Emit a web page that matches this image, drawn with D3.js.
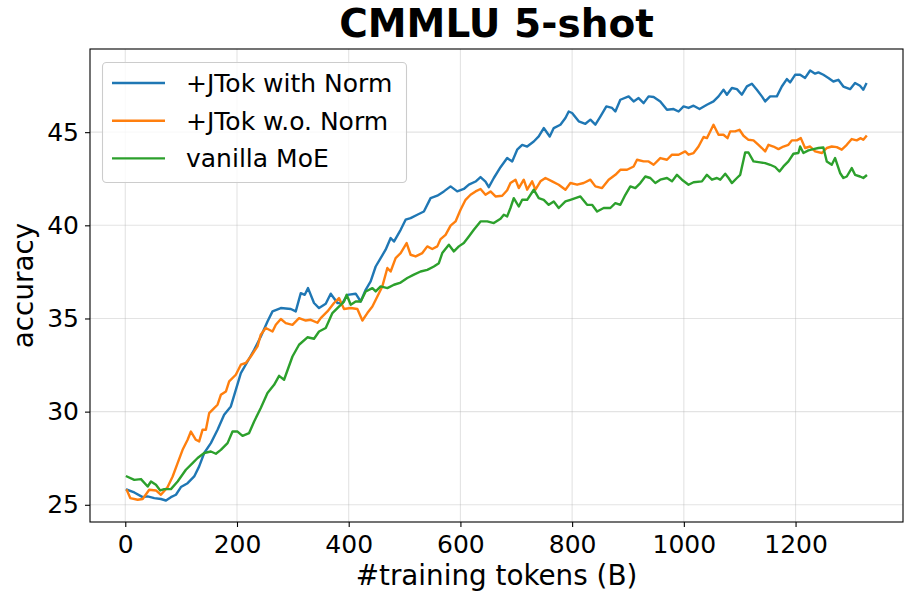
<!DOCTYPE html>
<html><head><meta charset="utf-8">
<script src="https://cdn.jsdelivr.net/npm/d3@7"></script>
<style>
html,body{margin:0;padding:0;background:#fff;}
svg{display:block;font-family:"DejaVu Sans",sans-serif;}
</style></head>
<body>
<svg id="chart" width="913" height="604"></svg>
<script>
const seriesNames = ["+JTok with Norm", "+JTok w.o. Norm", "vanilla MoE"];
const seriesColors = ["#1f77b4", "#ff7f0e", "#2ca02c"];
const xTicks = [0, 200, 400, 600, 800, 1000, 1200];
const yTicks = [25, 30, 35, 40, 45];

const blueTokens = [3.0,16.1,31.1,40.1,51.9,63.8,72.8,81.7,90.7,99.6,111.6,123.4,132.3,141.3,153.2,165.2,177.0,189.0,197.9,206.9,218.9,230.7,242.7,254.6,263.6,278.5,296.4,305.2,314.2,321.3,327.2,337.9,346.9,358.9,367.8,379.8,388.7,397.7,412.5,421.5,430.4,439.3,448.3,457.2,466.1,475.1,481.0,493.0,501.9,510.8,522.8,534.6,546.6,558.6,570.4,582.4,594.3,606.1,615.1,627.1,636.0,644.9,650.8,659.8,671.8,683.7,692.7,701.6,710.6,719.5,731.3,740.2,749.2,759.9,767.1,779.0,788.0,793.9,799.9,811.8,823.7,832.7,841.6,850.5,861.3,871.5,877.4,886.3,901.2,910.1,919.0,928.0,936.9,945.9,957.8,969.8,981.6,990.6,999.5,1008.4,1017.4,1028.1,1041.3,1053.1,1062.1,1071.0,1077.1,1086.0,1095.0,1103.9,1112.9,1121.8,1130.7,1139.7,1145.6,1154.5,1166.5,1175.4,1184.4,1190.3,1199.2,1208.2,1217.1,1226.1,1235.0,1240.9,1249.8,1258.8,1267.7,1276.6,1285.6,1297.6,1306.5,1315.4,1321.3,1326.2];
const blueAcc = [25.81,25.66,25.41,25.45,25.36,25.31,25.23,25.41,25.54,25.95,26.16,26.52,27.06,27.78,28.31,29.03,29.83,30.28,31.17,32.07,32.69,33.32,34.03,34.84,35.38,35.56,35.51,35.38,36.36,36.27,36.63,35.83,35.56,35.79,36.33,35.83,35.83,36.27,36.33,35.91,36.54,36.99,37.79,38.24,38.69,39.32,39.13,39.76,40.30,40.39,40.57,40.74,41.46,41.59,41.82,42.09,41.82,41.95,42.18,42.35,42.59,42.35,42.05,42.54,43.12,43.61,43.43,44.06,44.32,44.23,44.50,44.77,45.22,44.77,45.22,45.40,45.76,46.11,46.03,45.58,45.45,45.67,45.40,45.84,46.38,46.30,46.11,46.74,46.92,46.65,46.83,46.56,46.92,46.89,46.65,46.20,46.24,46.11,46.38,46.30,46.42,46.24,46.47,46.65,46.92,47.28,47.01,47.37,47.31,47.01,47.46,47.60,47.28,46.92,46.65,46.92,46.92,47.45,47.85,47.67,48.08,48.08,47.91,48.31,48.14,48.21,48.08,47.91,47.72,47.81,47.45,47.31,47.64,47.49,47.28,47.58];

const orangeTokens = [3.0,8.9,22.2,31.1,42.9,54.9,63.8,75.8,84.8,93.7,102.6,111.6,117.5,126.4,132.3,138.4,144.3,150.2,159.1,165.2,171.1,180.1,186.0,197.9,206.9,215.8,224.7,236.7,242.6,251.5,263.6,269.5,278.5,287.3,299.3,311.1,323.1,332.0,344.0,349.9,361.9,373.7,382.6,391.6,403.6,415.5,424.5,433.4,442.4,451.3,460.2,469.2,475.1,484.0,493.0,503.7,510.8,519.8,531.8,540.7,549.6,558.6,564.5,573.4,582.4,591.3,600.2,609.2,618.1,627.1,636.0,644.9,653.9,662.8,674.8,683.7,689.6,698.6,704.5,713.4,719.5,728.4,734.3,743.3,752.2,764.2,776.0,788.0,796.9,808.9,820.7,832.7,841.6,853.6,865.4,877.4,886.3,898.3,910.1,916.2,928.0,936.9,945.9,957.8,969.8,978.8,990.6,1002.5,1008.4,1017.4,1026.3,1035.3,1041.3,1047.2,1053.1,1062.1,1071.0,1078.2,1083.0,1091.9,1099.6,1106.8,1115.7,1124.7,1133.6,1139.7,1145.6,1151.5,1160.4,1169.4,1178.3,1187.2,1193.3,1202.3,1209.4,1217.1,1226.1,1235.0,1247.0,1255.9,1264.8,1273.8,1282.7,1291.7,1300.6,1309.5,1316.7,1321.3,1326.2];
const orangeAcc = [25.77,25.36,25.27,25.31,25.81,25.77,25.54,25.95,26.52,27.24,27.95,28.49,28.93,28.49,28.40,29.03,29.03,29.92,30.19,30.37,30.90,31.08,31.62,31.98,32.52,32.61,32.96,33.50,34.13,34.49,34.30,34.66,34.97,34.75,34.66,35.02,34.89,34.93,34.77,35.02,35.38,35.83,36.10,35.51,35.56,35.51,34.89,35.29,35.64,36.18,36.72,37.71,37.52,38.24,38.51,39.05,38.42,38.33,38.51,38.87,38.73,38.87,39.26,39.49,39.98,40.21,40.84,41.37,41.64,41.82,41.95,41.64,41.82,41.55,41.59,41.88,42.27,42.45,42.00,42.45,41.91,42.36,41.91,42.36,42.54,42.36,42.18,41.91,42.27,42.18,42.27,42.45,42.09,42.00,42.45,42.71,42.98,42.98,43.16,43.52,43.43,43.43,43.25,43.61,43.52,43.79,43.79,43.97,43.79,43.88,44.23,44.74,44.68,45.04,45.40,44.86,44.86,44.68,45.04,45.04,45.13,44.81,44.59,44.56,44.32,44.15,43.97,44.32,44.23,44.09,44.23,44.32,44.56,44.56,44.68,44.15,44.23,43.97,43.88,44.15,44.23,44.20,44.06,44.32,44.63,44.56,44.68,44.59,44.77];

const greenTokens = [3.0,16.1,28.1,40.1,46.0,54.9,62.6,69.7,81.7,93.7,108.5,120.5,129.5,141.3,153.2,162.2,171.1,183.1,192.0,201.0,209.9,221.7,230.7,242.6,254.6,266.4,275.4,284.3,299.3,311.1,326.1,337.9,346.9,358.9,370.8,379.8,391.6,396.4,403.6,412.5,421.5,430.4,442.4,448.3,457.2,469.2,481.0,493.0,504.9,516.7,528.7,540.7,552.5,561.4,567.5,579.3,588.3,597.2,606.1,615.1,624.0,636.0,648.0,659.8,671.8,677.7,683.7,689.6,695.5,704.5,710.6,719.5,731.3,740.2,749.2,758.1,767.1,776.0,788.0,796.9,814.8,826.8,835.7,844.7,856.5,868.4,877.4,886.3,895.3,904.2,913.1,922.1,931.0,940.0,948.9,957.8,969.8,978.8,987.7,996.6,1008.4,1017.4,1032.4,1041.3,1050.3,1059.2,1065.1,1074.1,1080.0,1086.0,1095.0,1100.9,1109.8,1115.7,1124.7,1136.6,1145.6,1154.5,1163.5,1171.2,1178.3,1187.2,1196.2,1205.1,1208.2,1214.1,1223.0,1232.0,1240.9,1249.8,1255.9,1264.8,1270.8,1279.7,1285.6,1291.7,1300.6,1306.5,1315.4,1321.3,1326.2];
const greenAcc = [26.52,26.34,26.38,25.98,26.25,26.07,25.77,25.84,25.84,26.25,26.88,27.24,27.51,27.78,27.86,27.74,27.95,28.31,28.93,28.93,28.70,28.85,29.47,30.19,31.00,31.44,31.92,31.71,32.96,33.59,33.99,33.91,34.30,34.49,35.29,35.56,35.91,36.27,35.74,35.91,35.91,36.45,36.63,36.45,36.72,36.63,36.81,36.93,37.17,37.35,37.52,37.61,37.79,37.97,38.51,38.96,38.60,38.87,39.05,39.40,39.76,40.21,40.21,40.12,40.35,40.57,40.48,40.93,41.46,41.01,41.37,41.37,41.91,41.46,41.37,41.10,41.28,40.93,41.28,41.37,41.55,41.10,41.10,40.74,40.93,40.93,41.19,41.10,41.64,42.09,42.00,42.27,42.62,42.54,42.27,42.45,42.54,42.36,42.71,42.45,42.18,42.31,42.36,42.71,42.45,42.54,42.45,42.77,42.54,42.27,42.54,42.71,43.91,43.91,43.43,43.38,43.34,43.25,43.13,42.89,43.16,43.43,43.84,43.88,44.23,43.88,44.02,44.09,44.15,44.18,43.43,43.25,43.61,42.81,42.54,42.62,43.07,42.71,42.62,42.54,42.66];

const series = [
  {tokens: blueTokens, acc: blueAcc},
  {tokens: orangeTokens, acc: orangeAcc},
  {tokens: greenTokens, acc: greenAcc}
];

const svg = d3.select("#chart");
const L = 90, R = 903, T = 49, B = 522;

const allX = [].concat(blueTokens, orangeTokens, greenTokens);
const allY = [].concat(blueAcc, orangeAcc, greenAcc);
const [x0, x1] = d3.extent(allX), [y0, y1] = d3.extent(allY);
const px = (x1 - x0) * 0.05, py = (y1 - y0) * 0.05;

const x = d3.scaleLinear().domain([x0 - px, x1 + px]).range([L, R]);
const y = d3.scaleLinear().domain([y0 - py, y1 + py]).range([B, T]);

// grid
const grid = svg.append("g");
grid.selectAll(".gx").data(xTicks).join("line")
  .attr("x1", d => x(d)).attr("x2", d => x(d)).attr("y1", T).attr("y2", B)
  .attr("stroke", "#b0b0b0").attr("stroke-opacity", 0.35).attr("stroke-width", 1.1);
grid.selectAll(".gy").data(yTicks).join("line")
  .attr("x1", L).attr("x2", R).attr("y1", d => y(d)).attr("y2", d => y(d))
  .attr("stroke", "#b0b0b0").attr("stroke-opacity", 0.35).attr("stroke-width", 1.1);

// lines
const line = d3.line().x(d => x(d[0])).y(d => y(d[1]));
series.forEach((s, i) => {
  svg.append("path")
    .datum(s.tokens.map((t, j) => [t, s.acc[j]]))
    .attr("d", line)
    .attr("fill", "none")
    .attr("stroke", seriesColors[i])
    .attr("stroke-width", 2.4)
    .attr("stroke-linejoin", "round")
    .attr("stroke-linecap", "square");
});

// axes
const xAxis = d3.axisBottom(x).tickValues(xTicks).tickSize(5).tickPadding(6).tickFormat(d3.format("d"));
const yAxis = d3.axisLeft(y).tickValues(yTicks).tickSize(5).tickPadding(6).tickFormat(d3.format("d"));
const gx = svg.append("g").attr("transform", `translate(0,${B})`).call(xAxis);
const gy = svg.append("g").attr("transform", `translate(${L},0)`).call(yAxis);
[gx, gy].forEach(g => {
  g.select(".domain").remove();
  g.selectAll(".tick line").attr("stroke", "#000").attr("stroke-width", 1.1);
  g.selectAll(".tick text").attr("fill", "#000").attr("font-size", 25)
    .attr("font-family", "DejaVu Sans");
});
gx.selectAll(".tick text").attr("dy", "0.78em");

// spines
svg.append("rect").attr("x", L).attr("y", T).attr("width", R - L).attr("height", B - T)
  .attr("fill", "none").attr("stroke", "#000").attr("stroke-width", 1.1);

// legend
const lg = svg.append("g");
lg.append("rect").attr("x", 102.5).attr("y", 62.5).attr("width", 304).attr("height", 120)
  .attr("rx", 4).attr("fill", "#fff").attr("fill-opacity", 0.8)
  .attr("stroke", "#cccccc").attr("stroke-width", 1.1);
seriesNames.forEach((n, i) => {
  const cy = 83 + i * 37.7;
  lg.append("line").attr("x1", 112).attr("x2", 165).attr("y1", cy).attr("y2", cy)
    .attr("stroke", seriesColors[i]).attr("stroke-width", 2.4);
  lg.append("text").attr("x", 186).attr("y", cy + 9).attr("font-size", 25)
    .attr("fill", "#000").text(n);
});

// title and labels
svg.append("text").attr("x", (L + R) / 2).attr("y", 37).attr("text-anchor", "middle")
  .attr("font-size", 39).attr("font-weight", "bold").attr("fill", "#000").text("CMMLU 5-shot");
svg.append("text").attr("x", (L + R) / 2).attr("y", 585).attr("text-anchor", "middle")
  .attr("font-size", 27.8).attr("fill", "#000").text("#training tokens (B)");
svg.append("text").attr("transform", `translate(33,${(T + B) / 2}) rotate(-90)`)
  .attr("text-anchor", "middle").attr("font-size", 27.8).attr("fill", "#000").text("accuracy");
</script>
</body></html>
